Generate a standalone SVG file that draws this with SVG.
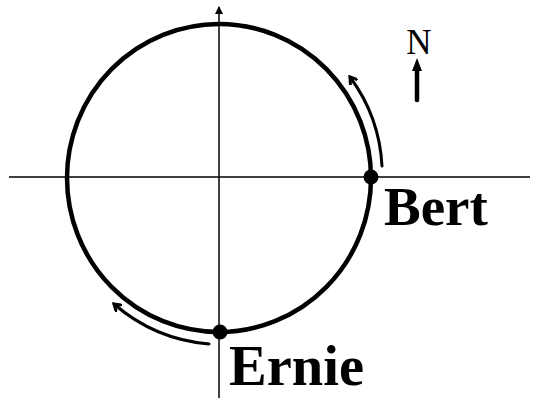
<svg xmlns="http://www.w3.org/2000/svg" width="535" height="398" viewBox="0 0 535 398">
<style>
.axis{stroke:#000;stroke-width:1.5;fill:none}
.orbit{stroke:#000;stroke-width:4.5;fill:none}
.move{stroke:#000;stroke-width:3;fill:none;stroke-linecap:round}
.lbl{font-family:"Liberation Serif","Times New Roman",serif;font-weight:bold;fill:#000}
.n{font-family:"Liberation Serif","Times New Roman",serif;font-size:35px;fill:#000}
</style>
<defs>
<marker id="open" markerWidth="10" markerHeight="10" refX="7" refY="5" orient="auto" markerUnits="userSpaceOnUse">
<polyline points="1,1 7,5 1,9" fill="none" stroke="#000" stroke-width="3" stroke-linecap="round"/>
</marker>
<marker id="tri" markerWidth="8" markerHeight="8" refX="7" refY="4" orient="auto" markerUnits="userSpaceOnUse">
<path d="M0,0 L8,4 L0,8 Z" fill="#000"/>
</marker>
</defs>
<g id="axes">
<line class="axis" x1="9" y1="177" x2="530" y2="177"/>
<line class="axis" x1="219" y1="398" x2="219" y2="7" marker-end="url(#tri)"/>
</g>
<g id="orbit">
<ellipse class="orbit" cx="219" cy="178" rx="152" ry="154"/>
</g>
<g id="connectors">
<path class="move" d="M382,166 A164,164 0 0 0 350,77" marker-end="url(#open)"/>
<path class="move" d="M209,344 A166,166 0 0 1 114,304" marker-end="url(#open)"/>
</g>
<g id="bert">
<circle cx="371" cy="177" r="7.5" fill="#000"/>
<text class="lbl" x="384" y="225" font-size="55">Bert</text>
</g>
<g id="ernie">
<circle cx="220" cy="332" r="7.5" fill="#000"/>
<text class="lbl" x="229" y="385" font-size="56.5">Ernie</text>
</g>
<g id="north">
<text class="n" x="419" y="54" text-anchor="middle">N</text>
<line x1="417" y1="100" x2="417" y2="68" stroke="#000" stroke-width="4.5" stroke-linecap="round"/>
<path d="M412,71 L417,58 L422,71 Z" fill="#000"/>
</g>
</svg>
